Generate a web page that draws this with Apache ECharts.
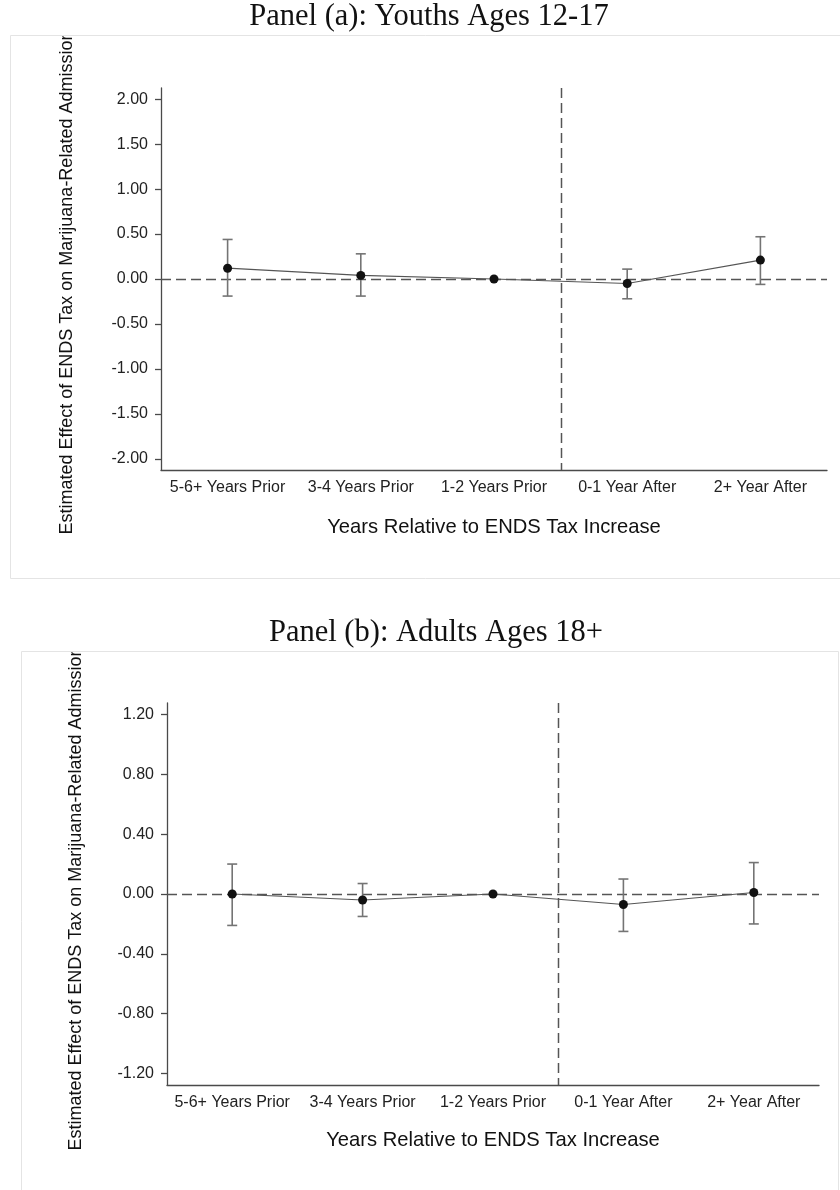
<!DOCTYPE html>
<html>
<head>
<meta charset="utf-8">
<script src="https://cdn.jsdelivr.net/npm/echarts@6/dist/echarts.min.js"></script>
<style>
  html, body { margin: 0; padding: 0; background: #fff; }
  #chart { width: 840px; height: 1190px; }
</style>
</head>
<body>
<div id="chart"></div>
<script>
// Event-study estimates: effect of ENDS tax on marijuana-related admissions
const periods = ['5-6+ Years Prior', '3-4 Years Prior', '1-2 Years Prior', '0-1 Year After', '2+ Year After'];

// Panel (a): youths ages 12-17
const youthEstimate = [0.12, 0.04, 0.00, -0.05, 0.21];
const youthLower = [-0.19, -0.19, null, -0.22, -0.06];
const youthUpper = [0.44, 0.28, null, 0.11, 0.47];
const youthTicks = [-2.0, -1.5, -1.0, -0.5, 0.0, 0.5, 1.0, 1.5, 2.0];

// Panel (b): adults ages 18+
const adultEstimate = [0.00, -0.04, 0.00, -0.07, 0.01];
const adultLower = [-0.21, -0.15, null, -0.25, -0.20];
const adultUpper = [0.20, 0.07, null, 0.10, 0.21];
const adultTicks = [-1.2, -0.8, -0.4, 0.0, 0.4, 0.8, 1.2];

// first post-increase period (the event line sits just before it)
const firstPostIndex = 3;

const yTitle = 'Estimated Effect of ENDS Tax on Marijuana-Related Admissions';
const xTitle = 'Years Relative to ENDS Tax Increase';

const SANS = 'Liberation Sans, Arial, sans-serif';
const SERIF = 'Liberation Serif, Times New Roman, serif';
const AXIS_COLOR = '#4a4a4a';

function ciData(lower, upper) {
  const out = [];
  lower.forEach((lo, i) => {
    if (lo !== null && upper[i] !== null) out.push([i, lo, upper[i]]);
  });
  return out;
}

function renderErrorBar(params, api) {
  const x = api.value(0);
  const top = api.coord([x, api.value(2)]);
  const bot = api.coord([x, api.value(1)]);
  const cap = 5;
  const style = { stroke: '#747474', lineWidth: 1.6, fill: null };
  return {
    type: 'group',
    children: [
      { type: 'line', shape: { x1: top[0], y1: top[1], x2: bot[0], y2: bot[1] }, style },
      { type: 'line', shape: { x1: top[0] - cap, y1: top[1], x2: top[0] + cap, y2: top[1] }, style },
      { type: 'line', shape: { x1: bot[0] - cap, y1: bot[1], x2: bot[0] + cap, y2: bot[1] }, style }
    ]
  };
}

// dashed zero line across the plot and dashed event line between pre and post periods
function renderRefLines(params, api) {
  const cs = params.coordSys;
  const band = api.size([1, 0])[0];
  const xEvent = Math.round(api.coord([api.value(0), 0])[0] - band / 2) + 0.5;
  const yZero = Math.round(api.coord([0, 0])[1]) + 0.5;
  const style = { stroke: '#555', lineWidth: 1.5, lineDash: [10, 5], fill: null };
  return {
    type: 'group',
    children: [
      { type: 'line', shape: { x1: cs.x, y1: yZero, x2: cs.x + cs.width, y2: yZero }, style },
      { type: 'line', shape: { x1: xEvent, y1: cs.y, x2: xEvent, y2: cs.y + cs.height }, style }
    ]
  };
}

function xAxisFor(gridIndex, nameGap) {
  return {
    type: 'category',
    gridIndex,
    data: periods,
    boundaryGap: true,
    name: xTitle,
    nameLocation: 'middle',
    nameGap,
    nameTextStyle: { fontFamily: SANS, fontSize: 20.2, color: '#111' },
    axisLine: { onZero: false, lineStyle: { color: AXIS_COLOR, width: 1.3 } },
    axisTick: { alignWithLabel: true, length: 6, lineStyle: { color: AXIS_COLOR, width: 1.3 } },
    axisLabel: { fontFamily: SANS, fontSize: 16, color: '#222', margin: 10, interval: 0 },
    splitLine: { show: false }
  };
}

function yAxisFor(gridIndex, min, max, ticks) {
  return {
    type: 'value',
    gridIndex,
    min,
    max,
    axisLine: { show: true, onZero: false, lineStyle: { color: AXIS_COLOR, width: 1.3 } },
    axisTick: { show: true, length: 6, customValues: ticks, lineStyle: { color: AXIS_COLOR, width: 1.3 } },
    axisLabel: {
      customValues: ticks,
      fontFamily: SANS, fontSize: 16, color: '#222', margin: 13,
      formatter: v => v.toFixed(2)
    },
    splitLine: { show: false }
  };
}

function seriesFor(idx, estimate, lower, upper) {
  return [
    {
      type: 'custom', xAxisIndex: idx, yAxisIndex: idx, z: 1, silent: true, clip: false,
      data: [[firstPostIndex, 0]],
      encode: { x: 0, y: 1 },
      renderItem: renderRefLines
    },
    {
      type: 'custom', xAxisIndex: idx, yAxisIndex: idx, z: 3, silent: true,
      data: ciData(lower, upper),
      encode: { x: 0, y: [1, 2] },
      renderItem: renderErrorBar
    },
    {
      type: 'line', xAxisIndex: idx, yAxisIndex: idx, z: 4, silent: true,
      data: estimate,
      symbol: 'circle', symbolSize: 9,
      itemStyle: { color: '#111' },
      lineStyle: { color: '#555', width: 1.2 }
    }
  ];
}

function frame(x, y, w, h) {
  return { type: 'rect', z: 30, silent: true, shape: { x, y, width: w, height: h },
           style: { fill: null, stroke: '#e4e4e4', lineWidth: 1 } };
}
function mask(x, y, w, h) {
  return { type: 'rect', z: 20, silent: true, shape: { x, y, width: w, height: h },
           style: { fill: '#fff', stroke: null } };
}
function panelTitle(text, x, y) {
  return { type: 'text', z: 40, x, y, silent: true,
           style: { text, x: 0, y: 0, textAlign: 'center', textVerticalAlign: 'middle',
                    fontFamily: SERIF, fontSize: 30.5, fill: '#111' } };
}
function sideTitle(x, y) {
  return { type: 'text', z: 10, x, y, rotation: Math.PI / 2, silent: true,
           style: { text: yTitle, x: 0, y: 0, textAlign: 'center', textVerticalAlign: 'middle',
                    fontFamily: SANS, fontSize: 18, fill: '#111' } };
}

const chart = echarts.init(document.getElementById('chart'), null, { renderer: 'canvas' });
chart.setOption({
  animation: false,
  backgroundColor: '#fff',
  grid: [
    { left: 161, top: 88, width: 666, height: 382 },
    { left: 167, top: 703, width: 652, height: 382 }
  ],
  xAxis: [xAxisFor(0, 47), xAxisFor(1, 45)],
  yAxis: [yAxisFor(0, -2.125, 2.125, youthTicks), yAxisFor(1, -1.276, 1.276, adultTicks)],
  series: [
    ...seriesFor(0, youthEstimate, youthLower, youthUpper),
    ...seriesFor(1, adultEstimate, adultLower, adultUpper)
  ],
  graphic: [
    sideTitle(67, 278),
    sideTitle(76, 894),
    mask(40, 0, 50, 35),
    mask(45, 600, 60, 51.5),
    frame(10.5, 35.5, 840, 543),
    frame(21.5, 651.5, 817, 600),
    panelTitle('Panel (a): Youths Ages 12-17', 429, 17),
    panelTitle('Panel (b): Adults Ages 18+', 436, 633)
  ]
});
</script>
</body>
</html>
